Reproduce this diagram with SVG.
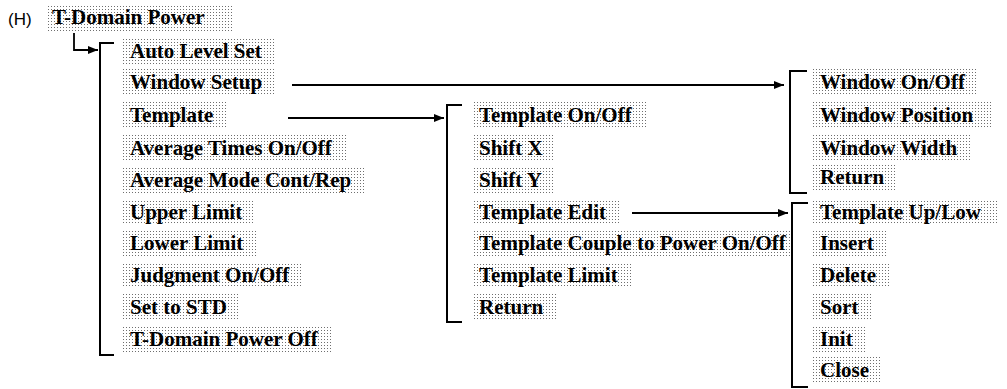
<svg xmlns="http://www.w3.org/2000/svg" width="1007" height="389" viewBox="0 0 1007 389">
<defs>
<pattern id="dots" width="3" height="3" patternUnits="userSpaceOnUse">
<rect x="0" y="0" width="1" height="1" fill="#6e6e6e"/>
</pattern>
<marker id="arr" markerWidth="10" markerHeight="8" refX="10" refY="4" orient="auto" markerUnits="userSpaceOnUse">
<path d="M0,0 L10,4 L0,8 Z" fill="#000"/>
</marker>
<style>
.bg{fill:url(#dots);}
.t{font-family:"Liberation Serif","Times New Roman",serif;font-weight:bold;font-size:21px;fill:#000;}
.h{font-family:"Liberation Sans",Arial,sans-serif;font-size:17px;fill:#000;}
.br{fill:none;stroke:#000;stroke-width:2;}
.ln{fill:none;stroke:#000;stroke-width:1.8;marker-end:url(#arr);}
</style>
</defs>
<rect width="1007" height="389" fill="#fff"/>

<text class="h" x="8" y="25">(H)</text>
<g id="root">
<rect class="bg" x="48" y="4" width="184" height="29"/>
<text class="t" x="52" y="24">T-Domain Power</text>
</g>

<g id="connectors">
<path class="ln" d="M74,33 V50 H98"/>
<path class="ln" d="M292,85 H784"/>
<path class="ln" d="M288,118 H444"/>
<path class="ln" d="M632,213 H788"/>
<path class="br" d="M114,43 H100 V355 H114"/>
<path class="br" d="M462,105 H447 V322 H462"/>
<path class="br" d="M807,71 H790 V193 H807"/>
<path class="br" d="M808,203 H792 V387 H808"/>
</g>

<g id="main-menu">
<g id="auto-level-set"><rect class="bg" x="123" y="38" width="151" height="26"/><text class="t" x="130" y="58">Auto Level Set</text></g>
<g id="window-setup"><rect class="bg" x="123" y="69" width="152" height="26"/><text class="t" x="130" y="89">Window Setup</text></g>
<g id="template"><rect class="bg" x="123" y="102" width="105" height="26"/><text class="t" x="130" y="122">Template</text></g>
<g id="average-times"><rect class="bg" x="123" y="135" width="223" height="26"/><text class="t" x="130" y="155">Average Times On/Off</text></g>
<g id="average-mode"><rect class="bg" x="123" y="167" width="242" height="26"/><text class="t" x="130" y="187">Average Mode Cont/Rep</text></g>
<g id="upper-limit"><rect class="bg" x="123" y="199" width="132" height="26"/><text class="t" x="130" y="219">Upper Limit</text></g>
<g id="lower-limit"><rect class="bg" x="123" y="230" width="133" height="26"/><text class="t" x="130" y="250">Lower Limit</text></g>
<g id="judgment"><rect class="bg" x="123" y="262" width="179" height="26"/><text class="t" x="130" y="282">Judgment On/Off</text></g>
<g id="set-to-std"><rect class="bg" x="123" y="294" width="116" height="26"/><text class="t" x="130" y="314">Set to STD</text></g>
<g id="tdomain-off"><rect class="bg" x="123" y="326" width="209" height="26"/><text class="t" x="130" y="346">T-Domain Power Off</text></g>
</g>

<g id="template-menu">
<g id="template-onoff"><rect class="bg" x="472" y="102" width="174" height="26"/><text class="t" x="479" y="122">Template On/Off</text></g>
<g id="shift-x"><rect class="bg" x="472" y="135" width="83" height="26"/><text class="t" x="479" y="155">Shift X</text></g>
<g id="shift-y"><rect class="bg" x="472" y="167" width="83" height="26"/><text class="t" x="479" y="187">Shift Y</text></g>
<g id="template-edit"><rect class="bg" x="472" y="199" width="148" height="26"/><text class="t" x="479" y="219">Template Edit</text></g>
<g id="template-couple"><rect class="bg" x="472" y="230" width="318" height="26"/><text class="t" x="479" y="250">Template Couple to Power On/Off</text></g>
<g id="template-limit"><rect class="bg" x="472" y="262" width="160" height="26"/><text class="t" x="479" y="282">Template Limit</text></g>
<g id="template-return"><rect class="bg" x="472" y="294" width="84" height="26"/><text class="t" x="479" y="314">Return</text></g>
</g>

<g id="window-menu">
<g id="window-onoff"><rect class="bg" x="813" y="69" width="165" height="26"/><text class="t" x="820" y="89">Window On/Off</text></g>
<g id="window-position"><rect class="bg" x="813" y="102" width="180" height="26"/><text class="t" x="820" y="122">Window Position</text></g>
<g id="window-width"><rect class="bg" x="813" y="135" width="158" height="26"/><text class="t" x="820" y="155">Window Width</text></g>
<g id="window-return"><rect class="bg" x="813" y="164" width="84" height="26"/><text class="t" x="820" y="184">Return</text></g>
</g>

<g id="edit-menu">
<g id="template-uplow"><rect class="bg" x="813" y="199" width="186" height="26"/><text class="t" x="820" y="219">Template Up/Low</text></g>
<g id="insert"><rect class="bg" x="813" y="230" width="73" height="26"/><text class="t" x="820" y="250">Insert</text></g>
<g id="delete"><rect class="bg" x="813" y="262" width="76" height="26"/><text class="t" x="820" y="282">Delete</text></g>
<g id="sort"><rect class="bg" x="813" y="294" width="58" height="26"/><text class="t" x="820" y="314">Sort</text></g>
<g id="init"><rect class="bg" x="813" y="326" width="53" height="26"/><text class="t" x="820" y="346">Init</text></g>
<g id="close"><rect class="bg" x="813" y="357" width="69" height="26"/><text class="t" x="820" y="377">Close</text></g>
</g>
</svg>
